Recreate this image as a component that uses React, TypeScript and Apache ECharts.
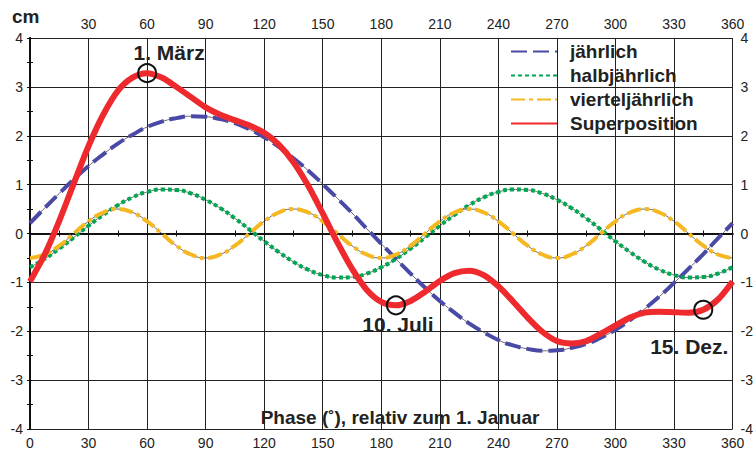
import React, { useEffect, useRef } from "react";
import * as echarts from "echarts";

// Phase in degrees, sampled every 7.5°
const phase = [
  0, 7.5, 15, 22.5, 30, 37.5, 45, 52.5, 60, 67.5, 75, 82.5, 90, 97.5, 105, 112.5,
  120, 127.5, 135, 142.5, 150, 157.5, 165, 172.5, 180, 187.5, 195, 202.5, 210,
  217.5, 225, 232.5, 240, 247.5, 255, 262.5, 270, 277.5, 285, 292.5, 300, 307.5,
  315, 322.5, 330, 337.5, 345, 352.5, 360,
];

// Annual term (cm)
const annual = [
  0.21, 0.52, 0.82, 1.11, 1.38, 1.62, 1.84, 2.02, 2.18, 2.29, 2.36, 2.4, 2.39,
  2.34, 2.26, 2.13, 1.97, 1.77, 1.54, 1.29, 1.01, 0.72, 0.42, 0.1, -0.21, -0.52,
  -0.82, -1.11, -1.38, -1.62, -1.84, -2.02, -2.18, -2.29, -2.36, -2.4, -2.39,
  -2.34, -2.26, -2.13, -1.97, -1.77, -1.54, -1.29, -1.01, -0.72, -0.42, -0.1, 0.21,
];

// Semi-annual term (cm)
const semiAnnual = [
  -0.69, -0.52, -0.31, -0.08, 0.16, 0.38, 0.58, 0.74, 0.85, 0.9, 0.89, 0.82, 0.69,
  0.52, 0.31, 0.08, -0.16, -0.38, -0.58, -0.74, -0.85, -0.9, -0.89, -0.82, -0.69,
  -0.52, -0.31, -0.08, 0.16, 0.38, 0.58, 0.74, 0.85, 0.9, 0.89, 0.82, 0.69, 0.52,
  0.31, 0.08, -0.16, -0.38, -0.58, -0.74, -0.85, -0.9, -0.89, -0.82, -0.69,
];

// Quarterly term (cm)
const quarterly = [
  -0.5, -0.43, -0.25, 0, 0.25, 0.43, 0.5, 0.43, 0.25, 0, -0.25, -0.43,
  -0.5, -0.43, -0.25, 0, 0.25, 0.43, 0.5, 0.43, 0.25, 0, -0.25, -0.43,
  -0.5, -0.43, -0.25, 0, 0.25, 0.43, 0.5, 0.43, 0.25, 0, -0.25, -0.43,
  -0.5, -0.43, -0.25, 0, 0.25, 0.43, 0.5, 0.43, 0.25, 0, -0.25, -0.43, -0.5,
];

// Superposition of the three terms (cm)
const superposition = [
  -0.98, -0.43, 0.26, 1.03, 1.79, 2.43, 2.92, 3.19, 3.28, 3.19, 3.0, 2.79, 2.58,
  2.43, 2.32, 2.21, 2.06, 1.82, 1.46, 0.98, 0.41, -0.18, -0.72, -1.15, -1.4,
  -1.47, -1.38, -1.19, -0.97, -0.81, -0.76, -0.85, -1.08, -1.39, -1.72, -2.01,
  -2.2, -2.25, -2.2, -2.05, -1.88, -1.72, -1.62, -1.6, -1.61, -1.62, -1.56,
  -1.35, -0.98,
];

// Marked dates on the superposition curve (index into phase)
const markedDates = ["1. März", "10. Juli", "15. Dez."];
const markedIndex = [8, 25, 46];

const seriesNames = ["jährlich", "halbjährlich", "vierteljährlich", "Superposition"];
const seriesColors = ["#4a4aa6", "#00a651", "#f5b820", "#ee2a2e"];

const FONT = "Liberation Sans, Arial, sans-serif";

const pairs = (ys: number[]) => phase.map((x, i) => [x, ys[i]]);

export default function App() {
  const ref = useRef<HTMLDivElement>(null);

  useEffect(() => {
    if (!ref.current) return;
    const chart = echarts.init(ref.current, undefined, { renderer: "svg" });

    const labelStyle = { fontFamily: FONT, fontSize: 14, color: "#222" };
    const xCommon = {
      type: "value" as const,
      min: 0,
      max: 360,
      interval: 30,
      axisLine: { show: true, lineStyle: { color: "#111", width: 2 } },
      axisTick: { show: true, length: 3, lineStyle: { color: "#111" } },
      minorTick: { show: true, splitNumber: 2, length: 3, lineStyle: { color: "#111" } },
      splitLine: { show: true, lineStyle: { color: "#222", width: 1 } },
    };
    const yCommon = {
      type: "value" as const,
      min: -4,
      max: 4,
      interval: 1,
      axisLine: { show: true, lineStyle: { color: "#111", width: 2 } },
      axisTick: { show: true, length: 3, lineStyle: { color: "#111" } },
      minorTick: { show: true, splitNumber: 2, length: 3, lineStyle: { color: "#111" } },
      splitLine: { show: true, lineStyle: { color: "#222", width: 1 } },
    };

    const thin = (ys: number[]) => ({
      type: "line" as const,
      name: "_",
      data: pairs(ys),
      smooth: true,
      symbol: "none",
      silent: true,
      z: 1,
      lineStyle: { color: "#444", width: 0.8 },
    });

    const marks = markedIndex.map((idx, k) => ({
      value: [phase[idx], superposition[idx]],
      label: {
        formatter: markedDates[k],
        offset: [[22, 5], [2, -6], [-14, 11]][k],
        position: k === 0 ? "top" : "bottom",
      },
    }));

    chart.setOption({
      animation: false,
      grid: { left: 30, right: 17, top: 38, bottom: 19 },
      xAxis: [
        {
          ...xCommon,
          position: "bottom",
          axisLabel: { ...labelStyle, margin: 7 },
        },
        {
          ...xCommon,
          position: "top",
          splitLine: { show: false },
          axisLabel: {
            ...labelStyle,
            margin: 7,
            formatter: (v: number) => (v === 0 ? "" : String(v)),
          },
        },
      ],
      yAxis: [
        { ...yCommon, position: "left", axisLabel: { ...labelStyle, margin: 7 } },
        {
          ...yCommon,
          position: "right",
          splitLine: { show: false },
          axisLabel: { ...labelStyle, margin: 8 },
        },
      ],
      legend: {
        data: seriesNames,
        orient: "vertical",
        left: 505,
        top: 37,
        itemWidth: 46,
        itemHeight: 14,
        itemGap: 5,
        itemStyle: { opacity: 0 },
        textStyle: {
          fontFamily: FONT,
          fontSize: 19,
          fontWeight: "bold",
          color: "#222",
          padding: [0, 0, 0, 8],
        },
      },
      graphic: [
        {
          type: "text",
          left: 12,
          top: 7,
          style: { text: "cm", fontFamily: FONT, fontSize: 19, fontWeight: "bold", fill: "#222" },
        },
        {
          type: "text",
          x: 400,
          y: 417,
          style: {
            text: "Phase (˚), relativ zum 1. Januar",
            fontFamily: FONT,
            fontSize: 19,
            fontWeight: "bold",
            fill: "#222",
            align: "center",
            verticalAlign: "middle",
          },
        },
      ],
      series: [
        thin(annual),
        thin(semiAnnual),
        thin(quarterly),
        {
          type: "line",
          name: seriesNames[0],
          data: pairs(annual),
          smooth: true,
          symbol: "none",
          z: 2,
          color: seriesColors[0],
          lineStyle: { color: seriesColors[0], width: 4, type: [16, 6] },
        },
        {
          type: "line",
          name: seriesNames[1],
          data: pairs(semiAnnual),
          smooth: true,
          symbol: "none",
          z: 2,
          color: seriesColors[1],
          lineStyle: { color: seriesColors[1], width: 4, type: [4, 3] },
        },
        {
          type: "line",
          name: seriesNames[2],
          data: pairs(quarterly),
          smooth: true,
          symbol: "none",
          z: 3,
          color: seriesColors[2],
          lineStyle: { color: seriesColors[2], width: 4, type: [14, 4, 4, 4] },
        },
        {
          type: "line",
          name: seriesNames[3],
          data: pairs(superposition),
          smooth: 0.3,
          symbol: "none",
          z: 4,
          color: seriesColors[3],
          lineStyle: { color: seriesColors[3], width: 6 },
        },
        {
          type: "scatter",
          name: "_marks",
          data: marks,
          symbol: "circle",
          symbolSize: 18,
          z: 5,
          itemStyle: {
            color: "rgba(0,0,0,0)",
            borderColor: "#111",
            borderWidth: 2,
            opacity: 1,
          },
          label: {
            show: true,
            fontFamily: FONT,
            fontSize: 21,
            fontWeight: "bold",
            color: "#222",
          },
        },
      ],
    });

    return () => chart.dispose();
  }, []);

  return (
    <div
      ref={ref}
      style={{ position: "absolute", left: 0, top: 0, width: 756, height: 450, background: "#fff" }}
    />
  );
}
